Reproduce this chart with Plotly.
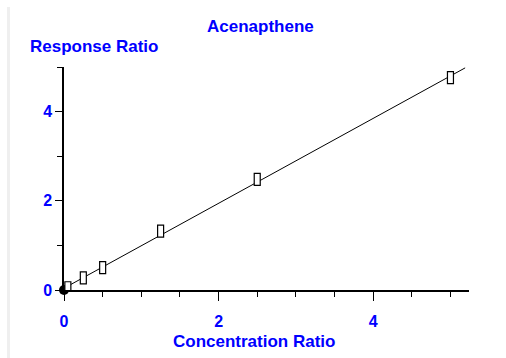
import plotly.graph_objects as go

# Data
conc_ratio = [0.05, 0.25, 0.5, 1.25, 2.5, 5.0]
resp_ratio = [0.05, 0.27, 0.50, 1.32, 2.48, 4.76]
origin_x = [0.0]
origin_y = [0.0]
fit_x = [0.0, 5.19]
fit_y = [0.04, 4.98]
x_major_ticks = [0, 2, 4]
y_major_ticks = [0, 2, 4]

BLUE = "#0000ff"
FONT = "Liberation Sans, Arial, sans-serif"

fig = go.Figure()

fig.add_trace(go.Scatter(
    x=fit_x, y=fit_y, mode="lines",
    line=dict(color="black", width=1),
    hoverinfo="skip", showlegend=False, cliponaxis=False,
))

shapes = []
# background frame strip
shapes.append(dict(type="rect", xref="paper", yref="paper",
                   x0=-0.1406, x1=-0.1332, y0=-0.31, y1=1.2687,
                   fillcolor="#efefef", line=dict(width=0), layer="below"))
for cx, cy in zip(conc_ratio, resp_ratio):
    shapes.append(dict(
        type="rect", xref="x", yref="y",
        xsizemode="pixel", ysizemode="pixel",
        xanchor=cx, yanchor=cy,
        x0=-3, x1=3, y0=-6, y1=6,
        fillcolor="white", line=dict(color="black", width=1.2),
        layer="above",
    ))

fig.add_trace(go.Scatter(
    x=origin_x, y=origin_y, mode="markers",
    marker=dict(symbol="circle", size=10, color="black"),
    showlegend=False, cliponaxis=False,
))

annotations = [
    dict(text="<b>Acenapthene</b>", xref="paper", yref="paper",
         x=0.486, y=1.1836, xanchor="center", yanchor="middle",
         showarrow=False, font=dict(family=FONT, size=17, color=BLUE)),
    dict(text="<b>Response Ratio</b>", xref="paper", yref="paper",
         x=-0.0888, y=1.0918, xanchor="left", yanchor="middle",
         showarrow=False, font=dict(family=FONT, size=17, color=BLUE)),
    dict(text="<b>Concentration Ratio</b>", xref="paper", yref="paper",
         x=0.4688, y=-0.2315, xanchor="center", yanchor="middle",
         showarrow=False, font=dict(family=FONT, size=17, color=BLUE)),
]

fig.update_layout(
    width=506, height=358,
    margin=dict(l=64, r=37, t=67, b=68, pad=0),
    paper_bgcolor="white", plot_bgcolor="white",
    shapes=shapes, annotations=annotations,
    showlegend=False,
    xaxis=dict(
        range=[0, 5.24], showgrid=False, zeroline=False,
        showline=True, linecolor="black", linewidth=1.5,
        tickmode="array", tickvals=x_major_ticks,
        ticktext=[f"<b>{v}</b>" for v in x_major_ticks],
        ticks="outside", ticklen=9, tickwidth=1, tickcolor="black",
        ticklabelstandoff=7,
        tickfont=dict(family=FONT, size=16, color=BLUE),
        minor=dict(dtick=0.5, tick0=0, ticks="outside", ticklen=5,
                   tickwidth=1, tickcolor="black", showgrid=False),
    ),
    yaxis=dict(
        range=[0, 5], showgrid=False, zeroline=False,
        showline=True, linecolor="black", linewidth=1.5,
        tickmode="array", tickvals=y_major_ticks,
        ticktext=[f"<b>{v}</b>" for v in y_major_ticks],
        ticks="outside", ticklen=7, tickwidth=1, tickcolor="black",
        tickfont=dict(family=FONT, size=16, color=BLUE),
        minor=dict(dtick=1, tick0=0, ticks="outside", ticklen=5,
                   tickwidth=1, tickcolor="black", showgrid=False),
    ),
)

fig.write_html("out.html")
